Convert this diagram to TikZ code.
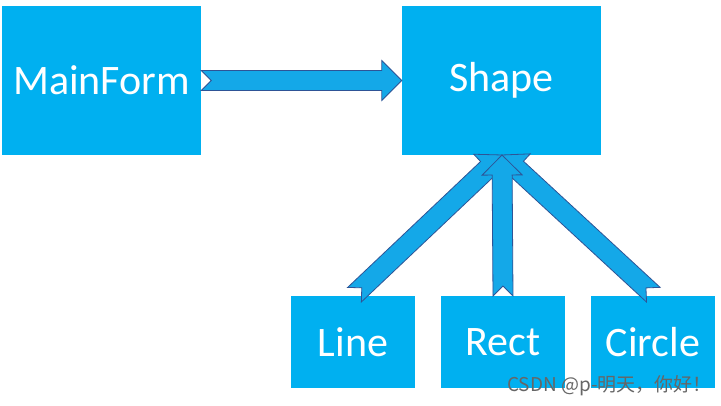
\documentclass[tikz,border=0pt]{standalone}
\usepackage{fontspec}
\setmainfont{Carlito}
\newfontfamily\cjkfont{Noto Sans CJK SC}
\usetikzlibrary{calc}
\definecolor{boxblue}{RGB}{0,176,240}
\definecolor{arrowfill}{RGB}{20,168,232}
\definecolor{arrowline}{RGB}{46,84,150}
\tikzset{
  box/.style={fill=boxblue, draw=none, inner sep=0pt, text=white,
    font=\fontsize{42}{46}\selectfont},
  bigbox/.style={box, minimum width=199pt, minimum height=149pt},
  smallbox/.style={box, minimum width=124pt, minimum height=92pt},
  blockarrow/.style={fill=arrowfill, draw=arrowline, line width=0.8pt, line join=miter,
    to path={
      ($(\tikztostart)!10pt!90:(\tikztotarget)$) --
      ($($(\tikztotarget)!20pt!(\tikztostart)$)!10pt!90:(\tikztotarget)$) --
      ($($(\tikztotarget)!20pt!(\tikztostart)$)!20pt!90:(\tikztotarget)$) --
      (\tikztotarget) --
      ($($(\tikztotarget)!20pt!(\tikztostart)$)!20pt!-90:(\tikztotarget)$) --
      ($($(\tikztotarget)!20pt!(\tikztostart)$)!10pt!-90:(\tikztotarget)$) --
      ($(\tikztostart)!10pt!-90:(\tikztotarget)$) --
      ($(\tikztostart)!10pt!(\tikztotarget)$) -- cycle
    }}
}
\begin{document}
\begin{tikzpicture}[x=1pt,y=-1pt]
\useasboundingbox (0,0) rectangle (721,406);
\fill[white] (0,0) rectangle (721,406);
\node[bigbox] (main) at (101.5,80.5) {MainForm};
\node[bigbox] (shape) at (501.5,80.5) {Shape};
\node[smallbox] (line) at (353,342) {Line};
\node[smallbox] (rect) at (503,342) {Rect};
\node[smallbox] (circle) at (653,342) {Circle};
\coordinate (mainT) at (main.east);
\coordinate (shapeH) at (shape.west);
\coordinate (shapeB) at (502,155);
\coordinate (lineT) at (354.5,294.7);
\coordinate (rectT) at (503,296);
\coordinate (circT) at (653.3,294.7);
\path[blockarrow] (mainT) to (shapeH);
\path[blockarrow] (lineT) to (shapeB);
\path[blockarrow] (circT) to (shapeB);
\path[blockarrow] (rectT) to (shapeB);
\node[text=gray!80!black, font=\cjkfont\fontsize{19}{21}\selectfont, anchor=east, inner sep=0pt] (wm) at (712,386) {CSDN @p-明天，你好！};
\end{tikzpicture}
\end{document}
